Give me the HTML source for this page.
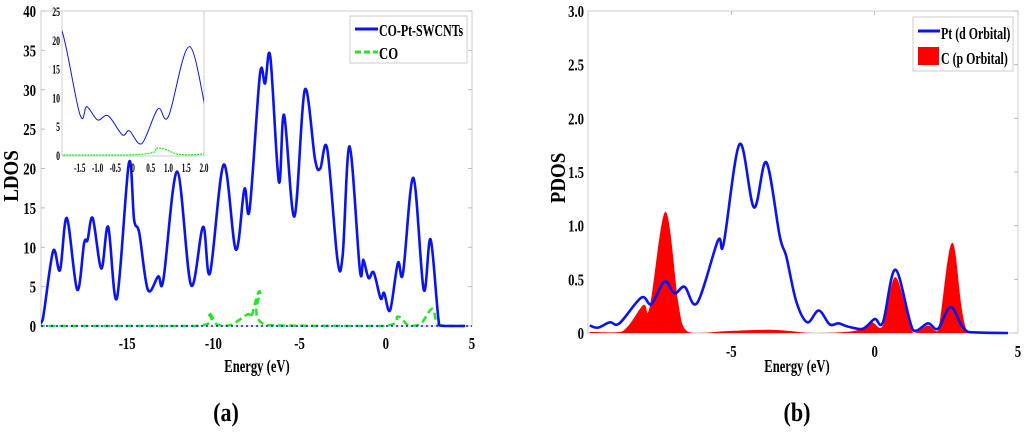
<!DOCTYPE html>
<html><head><meta charset="utf-8"><style>
body{margin:0;background:#fff;width:1024px;height:433px;overflow:hidden}
svg{display:block}
text{font-family:"Liberation Serif",serif;font-weight:bold;fill:#000}
</style></head><body>
<svg id="fig" width="1024" height="433"></svg>
<script>
// ---- chart (a) data ----
const ldosE=[-20.2,-19.9,-19.3,-18.9,-18.5,-17.9,-17.5,-17.3,-17.0,-16.5,-16.1,-15.6,-14.9,-14.6,-14.3,-13.8,-13.2,-12.9,-12.1,-11.3,-10.6,-10.2,-9.4,-8.7,-8.2,-7.9,-7.3,-7.0,-6.7,-6.2,-5.9,-5.3,-4.7,-4.1,-3.8,-3.4,-2.8,-2.5,-2.1,-1.5,-1.3,-1.0,-0.7,-0.3,-0.1,0.25,0.7,1.0,1.6,2.2,2.6,3.1,3.5,4.6];
const ldosV=[0.1,0.8,9.5,7.1,13.7,4.6,10.5,10.9,13.7,7.3,12.6,3.5,20.7,13.5,11.8,4.6,6.3,5.9,19.6,5.2,12.6,6.7,20.5,9.7,17.4,14.8,31.9,30.8,34.2,18.3,26.8,13.9,30.0,21.1,20.0,22.5,8.4,9.0,22.8,7.1,8.4,6.1,6.8,3.5,4.2,2.0,8.0,6.7,18.8,4.6,11.0,0.1,0,0];
const coE=[-20.2,-11,-10.3,-9.8,-9,-8.0,-7.8,-7.3,-6.9,-0.2,0.7,1.3,2.0,2.7,3.1,4.6];
const coV=[0,0,1.7,0.2,0.1,1.5,1.2,4.4,0.1,0,1.2,0.1,0.2,2.2,0.1,0];
const aXTicks=[-15,-10,-5,0,5];
const aYTicks=[0,5,10,15,20,25,30,35,40];
const insetXTicks=[-1.5,-1.0,-0.5,0,0.5,1.0,1.5,2.0];
const insetXLabels=["-1.5","-1.0","-0.5","0","0.5","1.0","1.5","2.0"];
const insetYTicks=[0,5,10,15,20,25];
// ---- chart (b) data ----
const ptE=[-9.94,-9.65,-9.24,-8.9,-8.14,-7.79,-7.33,-6.98,-6.63,-6.19,-5.47,-5.27,-4.71,-4.21,-3.78,-3.31,-3.08,-2.73,-2.35,-1.95,-1.57,-1.26,-0.93,-0.41,0,0.29,0.73,1.34,1.86,2.21,2.67,3.26,4.65];
const ptV=[0.07,0.05,0.10,0.09,0.33,0.27,0.48,0.37,0.43,0.28,0.86,0.83,1.76,1.17,1.59,0.9,0.71,0.29,0.10,0.21,0.08,0.09,0.06,0.04,0.13,0.10,0.59,0.025,0.09,0.04,0.24,0.01,0];
const cE=[-9.94,-8.84,-8.08,-7.85,-7.3,-6.86,-6.63,-6.16,-5,-3.72,-3.02,-2.1,-0.7,-0.12,0.29,0.73,1.34,1.86,2.21,2.71,3.26,4.65];
const cV=[0.01,0.01,0.26,0.24,1.13,0.3,0.04,0,0.02,0.03,0.02,0,0.02,0.1,0.07,0.52,0,0.07,0.02,0.84,0,0];
const bXTicks=[-5,0,5];
const bYTicks=[0,0.5,1.0,1.5,2.0,2.5,3.0];
const bYLabels=["0","0.5","1.0","1.5","2.0","2.5","3.0"];

const NS="http://www.w3.org/2000/svg";
const svg=document.getElementById('fig');
function el(tag,attrs,parent){const e=document.createElementNS(NS,tag);for(const k in attrs)e.setAttribute(k,attrs[k]);(parent||svg).appendChild(e);return e;}
function txt(s,x,y,size,anchor,parent,extra,sq){const t=el('text',Object.assign({x:x,y:y,'font-size':size,'text-anchor':anchor||'middle'},extra||{}),parent);t.textContent=s;
 const w=t.getComputedTextLength();if(w>0){t.setAttribute('textLength',(w*(sq||0.75)).toFixed(1));t.setAttribute('lengthAdjust','spacingAndGlyphs');}return t;}
function smooth(pts,base){const cl=y=>Math.min(y,base);let d='M'+pts[0][0].toFixed(1)+','+pts[0][1].toFixed(1);
 for(let i=0;i<pts.length-1;i++){const p0=pts[Math.max(0,i-1)],p1=pts[i],p2=pts[i+1],p3=pts[Math.min(pts.length-1,i+2)];
 const c1=[p1[0]+(p2[0]-p0[0])/6,cl(p1[1]+(p2[1]-p0[1])/6)],c2=[p2[0]-(p3[0]-p1[0])/6,cl(p2[1]-(p3[1]-p1[1])/6)];
 d+='C'+c1[0].toFixed(1)+','+c1[1].toFixed(1)+' '+c2[0].toFixed(1)+','+c2[1].toFixed(1)+' '+p2[0].toFixed(1)+','+p2[1].toFixed(1);}
 return d;}
function lin(d0,d1,r0,r1){return v=>r0+(v-d0)/(d1-d0)*(r1-r0);}

el('defs',{}).innerHTML='<clipPath id="ca"><rect x="41" y="0" width="431" height="332"/></clipPath><clipPath id="ci"><rect x="62" y="11" width="142" height="147"/></clipPath><clipPath id="cb"><rect x="588" y="0" width="430" height="337"/></clipPath>';

// ===== Chart (a) =====
const ax=lin(-20,5,41,472), ay=lin(0,40,326,11);
const ga=el('g',{});


el('rect',{x:41,y:11,width:431,height:315,fill:'none',stroke:'#ccc','stroke-width':1},ga);
aYTicks.forEach(v=>{const t=txt(String(v),36,ay(v)+6,17,'end',ga);el('line',{x1:41,x2:45,y1:ay(v),y2:ay(v),stroke:'#bbb'},ga);el('line',{x1:468,x2:472,y1:ay(v),y2:ay(v),stroke:'#bbb'},ga);});
aXTicks.forEach(v=>{const t=txt(String(v),ax(v),349,17,'middle',ga);});
const gaLines=el('g',{'clip-path':'url(#ca)'},ga);
const coPath=el('path',{d:smooth(coE.map((e,i)=>[ax(e),ay(coV[i])]),ay(0)),fill:'none',stroke:'#22e822','stroke-width':2.5,'stroke-dasharray':'7,4'},gaLines);


const ldPath=el('path',{d:smooth(ldosE.map((e,i)=>[ax(e),ay(ldosV[i])]),ay(0)),fill:'none',stroke:'#0a14f0','stroke-width':2.6},gaLines);


el('line',{x1:41,x2:472,y1:326,y2:326,stroke:'#0a14f0','stroke-width':1.5,'stroke-dasharray':'2,3'},ga);
// inset
const ix=lin(-2,2,62,204), iy=lin(0,25,155,11);
const gi=el('g',{},ga);


el('rect',{x:62,y:11,width:142,height:145,fill:'#fff',stroke:'#ccc'},gi);
insetYTicks.forEach(v=>{txt(String(v),60,iy(v)+5,13,'end',gi,{},0.6);});
insetXTicks.forEach((v,i)=>{txt(insetXLabels[i],ix(v),172,13,'middle',gi,{},0.55);});
const gil=el('g',{'clip-path':'url(#ci)'},gi);
el('path',{d:smooth(coE.map((e,i)=>[ix(e),iy(coV[i])]),iy(0)),fill:'none',stroke:'#22e822','stroke-width':1.2,'stroke-dasharray':'2,1'},gil);
el('path',{d:smooth(ldosE.map((e,i)=>[ix(e),iy(ldosV[i])]),iy(0)),fill:'none',stroke:'#0a14f0','stroke-width':1},gil);
// legend a
const la=el('g',{},ga);


el('rect',{x:350,y:16,width:117,height:47,fill:'#fff',stroke:'#ccc'},la);
el('line',{x1:355,x2:378,y1:29,y2:29,stroke:'#0a14f0','stroke-width':3},la);
txt('CO-Pt-SWCNTs',379,36,17,'start',la,{},0.7);
el('line',{x1:355,x2:378,y1:52,y2:52,stroke:'#22e822','stroke-width':3,'stroke-dasharray':'6,3'},la);
txt('CO',379,59,17,'start',la,{},0.75);
const yla=txt('LDOS',0,0,21,'middle',ga,{transform:'translate(18,176) rotate(-90)'},0.9);


const xla=txt('Energy (eV)',257,372,18,'middle',ga,{},0.7);


const capA=txt('(a)',226,421,26,'middle',ga,{},0.85);



// ===== Chart (b) =====
const bx=lin(-10,5,588,1018), by=lin(0,3,333,11);
const gb=el('g',{});


el('rect',{x:588,y:11,width:430,height:322,fill:'none',stroke:'#ccc'},gb);
bYTicks.forEach((v,i)=>{const t=txt(bYLabels[i],584,by(v)+6,17,'end',gb);el('line',{x1:1014,x2:1018,y1:by(v),y2:by(v),stroke:'#bbb'},gb);});
bXTicks.forEach(v=>{const t=txt(String(v),bx(v),357,17,'middle',gb);el('line',{x1:bx(v),x2:bx(v),y1:11,y2:15,stroke:'#bbb'},gb);});
const gbl=el('g',{'clip-path':'url(#cb)'},gb);
const cpts=cE.map((e,i)=>[bx(e),by(cV[i])]);
const cArea=el('path',{d:smooth(cpts,by(0))+'L'+bx(cE[cE.length-1])+','+by(0)+'L'+bx(cE[0])+','+by(0)+'Z',fill:'#ff0000',stroke:'none'},gbl);


const ptPath=el('path',{d:smooth(ptE.map((e,i)=>[bx(e),by(ptV[i])]),by(0)),fill:'none',stroke:'#0a14f0','stroke-width':2.6},gbl);


const lb=el('g',{},gb);


el('rect',{x:913,y:17,width:100,height:54,fill:'#fff',stroke:'#ccc'},lb);
el('line',{x1:918,x2:940,y1:31,y2:31,stroke:'#0a14f0','stroke-width':3},lb);
txt('Pt (d Orbital)',941,39,17,'start',lb,{},0.7);
el('rect',{x:918,y:47,width:21,height:18,fill:'#ff0000'},lb);
txt('C (p Orbital)',941,64,17,'start',lb,{},0.7);
const ylb=txt('PDOS',0,0,21,'middle',gb,{transform:'translate(565,178) rotate(-90)'},0.9);


const xlb=txt('Energy (eV)',797,372,18,'middle',gb,{},0.7);


const capB=txt('(b)',797,421,26,'middle',gb,{},0.85);


</script>
</body></html>
